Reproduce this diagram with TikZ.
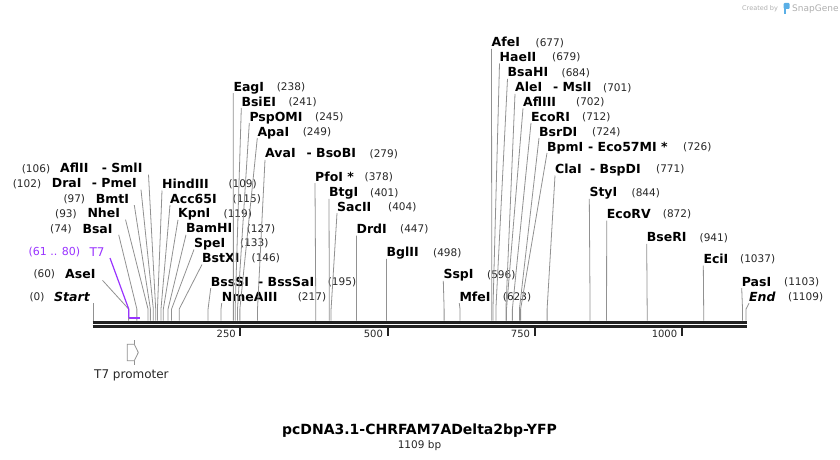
\documentclass[tikz,border=0pt]{standalone}
\usepackage{fontspec}
\setmainfont{DejaVu Sans}
\definecolor{cutgray}{RGB}{145,145,145}
\definecolor{tsev}{RGB}{153,51,255}
\definecolor{mapblack}{RGB}{34,34,34}
\definecolor{credgray}{RGB}{175,175,175}
\definecolor{snapblue}{RGB}{90,175,230}
\tikzset{
  cut/.style={draw=cutgray, line width=0.8pt},
  enz/.style={font=\fontsize{12.5}{12.5}\selectfont\bfseries, inner sep=0pt, anchor=base west, text=black},
  num/.style={font=\fontsize{10.5}{10.5}\selectfont, inner sep=0pt, anchor=base west, text=black!85},
  ticklab/.style={font=\fontsize{10}{10}\selectfont, inner sep=0pt, anchor=base east, text=black!85},
  tickmark/.style={draw=mapblack, line width=2pt},
  mapline/.style={draw=mapblack},
}
% right-type label: id, bp, name x, y, name, number x, number
\newcommand\RLab[7]{%
  \coordinate (s#1) at ({93.3+0.5886*#2},320.5);
  \coordinate (k#1) at ({93.3+0.5886*#2},309);
  \coordinate (a#1) at (#3,#4+6.5);
  \draw[cut] (s#1) -- (k#1) -- (a#1);
  \node[enz] (n#1) at (#3,#4+4.5) {#5};
  \node[num] (m#1) at (#6,#4+3.9) {(#7)};
}
% left-type label: id, bp, number x, number, name x, name, y, anchor x
\newcommand\LLab[8]{%
  \coordinate (s#1) at ({93.3+0.5886*#2},320.5);
  \coordinate (k#1) at ({93.3+0.5886*#2},309);
  \coordinate (a#1) at (#8,#7+6.3);
  \draw[cut] (s#1) -- (k#1) -- (a#1);
  \node[num] (m#1) at (#3,#7+3.9) {(#4)};
  \node[enz] (n#1) at (#5,#7+4.5) {#6};
}
\begin{document}
\begin{tikzpicture}[x=1pt,y=-1pt]
\useasboundingbox (0,0) rectangle (840,460);

% credit
\node[font=\fontsize{6.5}{6.5}\selectfont, text=credgray, inner sep=0pt, anchor=base west] (cred) at (742,10.5) {Created by};
\fill[snapblue, rounded corners=1pt] (783.5,3) rectangle (789.5,9);
\fill[snapblue] (783.5,8) rectangle (786,14);
\node[font=\fontsize{9}{9}\selectfont, text=credgray, inner sep=0pt, anchor=base west] (snap) at (792,11.5) {SnapGene};

% left-type labels
\LLab{aflii}{106}{21.7}{106}{60}{AflII}{168.3}{148.5}
\node[enz] (aflii2) at (101.7,168.3+4.5) {- SmlI};
\LLab{drai}{102}{12.7}{102}{51.7}{DraI}{183.3}{141}
\node[enz] (drai2) at (91.7,183.3+4.5) {- PmeI};
\LLab{bmti}{97}{63.3}{97}{95.7}{BmtI}{198.8}{134.3}
\LLab{nhei}{93}{55}{93}{87.3}{NheI}{213.3}{125.5}
\LLab{bsai}{74}{50}{74}{82.3}{BsaI}{228.5}{118.7}
\LLab{asei}{60}{33.3}{60}{65}{AseI}{274}{102.5}
\LLab{start}{0}{29.3}{0}{54}{\itshape Start}{296.7}{93.3}

% right-type labels, left cluster
\RLab{hind}{109}{162}{184}{HindIII}{228.3}{109}
\RLab{acc}{115}{170}{198.5}{Acc65I}{232.5}{115}
\RLab{kpn}{119}{178}{213.3}{KpnI}{223.5}{119}
\RLab{bam}{127}{186}{228.3}{BamHI}{246.7}{127}
\RLab{spe}{133}{194}{243}{SpeI}{240}{133}
\RLab{bstx}{146}{202}{258}{BstXI}{251.5}{146}
\RLab{bsss}{195}{210.7}{281.7}{BssSI}{327.7}{195}
\node[enz] (bsss2) at (258,281.7+4.5) {- BssSaI};
\RLab{nme}{217}{221.7}{296.7}{NmeAIII}{297.7}{217}

% top middle
\RLab{eag}{238}{233.3}{86.7}{EagI}{276.7}{238}
\RLab{bsie}{241}{241.3}{101.5}{BsiEI}{288.3}{241}
\RLab{psp}{245}{249.3}{116.5}{PspOMI}{315}{245}
\RLab{apa}{249}{257.3}{131.5}{ApaI}{302.7}{249}
\RLab{ava}{279}{265}{153.3}{AvaI}{369.5}{279}
\node[enz] (ava2) at (306.5,153.3+4.5) {- BsoBI};
\RLab{pfo}{378}{315}{176.7}{PfoI *}{364.5}{378}
\RLab{btg}{401}{329}{192.3}{BtgI}{370}{401}
\RLab{sac}{404}{337}{206.7}{SacII}{388}{404}
\RLab{drd}{447}{356.5}{229}{DrdI}{400}{447}
\RLab{bgl}{498}{386.5}{252.3}{BglII}{433}{498}
\RLab{ssp}{596}{443.3}{274.3}{SspI}{487}{596}
\RLab{mfe}{623}{459.3}{296.7}{MfeI}{502.7}{623}

% top right
\RLab{afe}{677}{491.5}{42.3}{AfeI}{535.5}{677}
\RLab{hae}{679}{499.5}{57}{HaeII}{552}{679}
\RLab{bsah}{684}{507.5}{72.3}{BsaHI}{561.5}{684}
\RLab{ale}{701}{515}{87.3}{AleI}{603}{701}
\node[enz] (ale2) at (553,87.3+4.5) {- MslI};
\RLab{afliii}{702}{523}{101.8}{AflIII}{576}{702}
\RLab{ecori}{712}{531}{116.5}{EcoRI}{582}{712}
\RLab{bsrd}{724}{539}{131.5}{BsrDI}{592}{724}
\RLab{bpm}{726}{547}{146.5}{BpmI}{683}{726}
\node[enz] (bpm2) at (588,146.5+4.5) {- Eco57MI *};
\RLab{cla}{771}{555}{169}{ClaI}{656}{771}
\node[enz] (cla2) at (590,169+4.5) {- BspDI};
\RLab{sty}{844}{589.3}{192.3}{StyI}{631.5}{844}
\RLab{ecorv}{872}{606.7}{214}{EcoRV}{662.7}{872}
\RLab{bser}{941}{646.7}{237.3}{BseRI}{699.5}{941}
\RLab{eci}{1037}{703.3}{259}{EciI}{740}{1037}
\RLab{pas}{1103}{741.7}{281.7}{PasI}{784}{1103}
\RLab{end}{1109}{749}{296.7}{\itshape End}{788}{1109}

% T7 feature (purple)
\node[font=\fontsize{11}{11}\selectfont, text=tsev, inner sep=0pt, anchor=base west] (t7num) at (28.3,251.7+4) {(61 .. 80)};
\node[font=\fontsize{12}{12}\selectfont, text=tsev, inner sep=0pt, anchor=base west] (t7) at (89.3,251.7+4.4) {T7};
\coordinate (t7a) at (110,258);
\coordinate (t7k) at (128.7,309);
\coordinate (t7s) at (128.7,317.7);
\coordinate (t7e) at (139.8,317.7);
\draw[tsev, line width=1.2pt] (t7a) -- (t7k) -- (t7s);
\draw[tsev, line width=2pt] (t7s) -- (t7e);

% map lines
\coordinate (m0) at (92.7,322);
\coordinate (m1) at (746.7,322);
\coordinate (l0) at (92.7,326.5);
\coordinate (l1) at (746.7,326.5);
\draw[mapline, line width=3pt] (m0) -- (m1);
\draw[mapline, line width=2.6pt] (l0) -- (l1);

% ticks
\foreach \v in {250,500,750,1000}{
  \coordinate (t\v) at ({93.3+0.5886*\v},327.5);
  \draw[tickmark] (t\v) -- ++(0,8);
  \node[ticklab] (tl\v) at ({93.3+0.5886*\v-4.5},337) {\v};
}

% T7 promoter feature arrow
\draw[cutgray, line width=0.8pt] (127.3,344.3) -- (134.3,344.3) -- (138.3,352.5) -- (134.3,360.7) -- (127.3,360.7) -- cycle;
\draw[cutgray, line width=0.8pt] (134.3,340) -- (134.3,344.3);
\draw[cutgray, line width=0.8pt] (134.3,360.7) -- (134.3,365);
\node[font=\fontsize{12}{12}\selectfont, inner sep=0pt, anchor=base west, text=black!85] (t7p) at (94,378) {T7 promoter};

% title
\node[font=\fontsize{14}{14}\selectfont\bfseries, inner sep=0pt, anchor=base] (title) at (419.5,434) {pcDNA3.1-CHRFAM7ADelta2bp-YFP};
\node[font=\fontsize{10.5}{10.5}\selectfont, inner sep=0pt, anchor=base, text=black!85] (bp) at (419.5,448) {1109 bp};
\end{tikzpicture}
\end{document}
